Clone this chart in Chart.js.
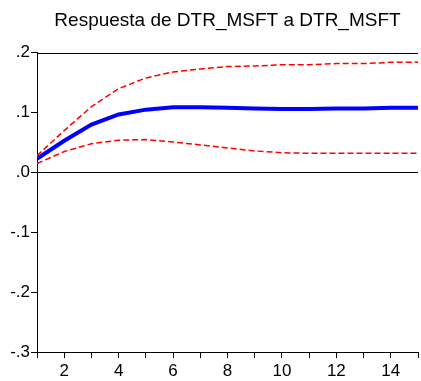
<!DOCTYPE html>
<html>
<head>
<meta charset="utf-8">
<script src="https://cdn.jsdelivr.net/npm/chart.js@4.4.1/dist/chart.umd.min.js"></script>
<style>
  html, body { margin: 0; padding: 0; background: #fff; }
  #wrap { width: 421px; height: 381px; }
</style>
</head>
<body>
<div id="wrap"><canvas id="chartIRF"></canvas></div>
<script>
// Respuesta al impulso
const periodos = [1, 2, 3, 4, 5, 6, 7, 8, 9, 10, 11, 12, 13, 14, 15]
const respuesta = [0.023, 0.053, 0.080, 0.097, 0.105, 0.109, 0.109, 0.108, 0.107, 0.106, 0.106, 0.107, 0.107, 0.108, 0.108]
const bandaSup = [0.028, 0.070, 0.110, 0.140, 0.158, 0.168, 0.173, 0.177, 0.178, 0.180, 0.180, 0.182, 0.182, 0.184, 0.184]
const bandaInf = [0.015, 0.035, 0.048, 0.054, 0.055, 0.051, 0.046, 0.041, 0.036, 0.033, 0.032, 0.032, 0.032, 0.032, 0.032]
const yTicks = [-0.3, -0.2, -0.1, 0.0, 0.1, 0.2]

const pares = serie => serie.map((v, i) => ({ x: periodos[i], y: v }))

// marco del grafico y linea del cero
const marco = {
    id: "marco",
    beforeDatasetsDraw(chart) {
        const { ctx, chartArea: a, scales } = chart
        const y0 = Math.round(scales.y.getPixelForValue(0)) + 0.5
        ctx.save()
        ctx.strokeStyle = "#000"
        ctx.lineWidth = 1
        ctx.beginPath()
        ctx.moveTo(a.left, y0)
        ctx.lineTo(a.right, y0)
        ctx.moveTo(a.left, Math.round(a.top) + 0.5)
        ctx.lineTo(a.right, Math.round(a.top) + 0.5)
        ctx.stroke()
        ctx.restore()
    }
}

const ctx = document.getElementById("chartIRF")

new Chart(ctx, {
    type: "line",
    data: {
        datasets: [
            {
                data: pares(bandaSup),
                borderColor: "#ff0000",
                borderWidth: 1.5,
                borderDash: [6, 3],
                pointRadius: 0,
                tension: 0
            },
            {
                data: pares(bandaInf),
                borderColor: "#ff0000",
                borderWidth: 1.5,
                borderDash: [6, 3],
                pointRadius: 0,
                tension: 0
            },
            {
                data: pares(respuesta),
                borderColor: "#0000ff",
                borderWidth: 4,
                pointRadius: 0,
                tension: 0
            }
        ]
    },
    options: {
        responsive: true,
        maintainAspectRatio: false,
        animation: false,
        layout: { padding: { left: 0, right: 0, top: 0, bottom: 0 } },
        plugins: {
            legend: { display: false },
            tooltip: { enabled: false },
            title: {
                display: true,
                text: "Respuesta de DTR_MSFT a DTR_MSFT",
                color: "#000",
                fullSize: false,
                font: { family: "Liberation Sans, Arial, sans-serif", size: 19, weight: "normal" },
                padding: { top: 9, bottom: 21 }
            }
        },
        scales: {
            x: {
                type: "linear",
                min: 1,
                max: 15,
                afterFit: s => { s.height = 29 },
                border: { display: true, color: "#000", width: 1 },
                grid: { drawOnChartArea: false, color: "#000", tickLength: 6 },
                ticks: {
                    stepSize: 1,
                    autoSkip: false,
                    maxRotation: 0,
                    color: "#000",
                    padding: 3,
                    font: { family: "Liberation Sans, Arial, sans-serif", size: 17 },
                    callback: v => (v % 2 === 0 ? String(v) : "")
                }
            },
            y: {
                min: yTicks[0],
                max: yTicks[yTicks.length - 1],
                afterFit: s => { s.width = 37 },
                afterBuildTicks: s => { s.ticks = yTicks.map(v => ({ value: v })) },
                border: { display: true, color: "#000", width: 1 },
                grid: { drawOnChartArea: false, color: "#000", tickLength: 6 },
                ticks: {
                    color: "#000",
                    padding: 1,
                    font: { family: "Liberation Sans, Arial, sans-serif", size: 17 },
                    callback: v => v.toFixed(1).replace("0.", ".")
                }
            }
        }
    },
    plugins: [marco]
})
</script>
</body>
</html>
